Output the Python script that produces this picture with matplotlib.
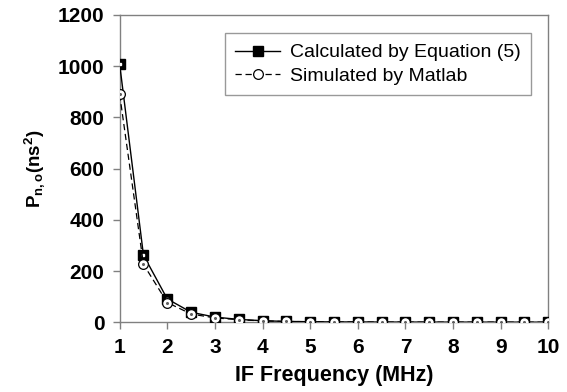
import matplotlib
matplotlib.use('Agg')
import matplotlib.pyplot as plt

plt.rcParams['font.family'] = 'Liberation Sans'
plt.rcParams['mathtext.fontset'] = 'custom'
plt.rcParams['mathtext.rm'] = 'Liberation Sans:bold'
plt.rcParams['mathtext.it'] = 'Liberation Sans:bold'
plt.rcParams['mathtext.bf'] = 'Liberation Sans:bold'

# Data
freq = [1, 1.5, 2, 2.5, 3, 3.5, 4, 4.5, 5, 5.5, 6, 6.5, 7, 7.5, 8, 8.5, 9, 9.5, 10]
calculated = [1008, 262, 91, 39, 20, 11, 6, 3, 2, 1, 1, 0.5, 0.5, 0.3, 0.3, 0.2, 0.2, 0.1, 0.1]
simulated = [890, 226, 77, 32, 17, 10, 5, 3, 2, 1, 1, 0.5, 0.5, 0.3, 0.3, 0.2, 0.2, 0.1, 0.1]

fig = plt.figure(figsize=(5.67, 3.92), dpi=100)
ax = fig.add_axes([0.211, 0.178, 0.756, 0.784])

ax.plot(freq, calculated, color='black', linestyle='-', linewidth=1.0,
        marker='s', markersize=6.5, markerfacecolor='black', markeredgecolor='black',
        label='Calculated by Equation (5)', zorder=3)
ax.plot(freq, calculated, linestyle='none', marker='s', markersize=1.5,
        color='white', zorder=3.5)
ax.plot(freq, simulated, color='black', linestyle=(0, (5, 3)), linewidth=0.9,
        marker='o', markersize=7, markerfacecolor='white', markeredgecolor='black',
        markeredgewidth=0.9, label='Simulated by Matlab', zorder=4)
ax.plot(freq, simulated, linestyle='none', marker='o', markersize=1.2,
        color='#606060', zorder=4.5)

ax.set_xlim(1, 10)
ax.set_ylim(0, 1200)
ax.set_xticks(range(1, 11))
ax.set_yticks(range(0, 1201, 200))

for s in ax.spines.values():
    s.set_color('#808080')
    s.set_linewidth(1.0)

ax.tick_params(axis='both', direction='out', length=5, width=1, color='#808080',
               labelsize=15, pad=6)
for lbl in ax.get_xticklabels() + ax.get_yticklabels():
    lbl.set_fontweight('bold')

ax.set_xlabel('IF Frequency (MHz)', fontsize=15.5, fontweight='bold', labelpad=6)
ax.set_ylabel(r'$\mathrm{P_{n,o}(ns^2)}$', fontsize=13.5, labelpad=8)

leg = ax.legend(loc='upper right', bbox_to_anchor=(0.960, 0.941), borderaxespad=0,
                fontsize=14, frameon=True, fancybox=False, handlelength=2.3,
                handletextpad=0.5, borderpad=0.55, labelspacing=0.3)
leg.get_frame().set_edgecolor('#808080')
leg.get_frame().set_linewidth(1.0)

fig.savefig('out.png', dpi=100)
